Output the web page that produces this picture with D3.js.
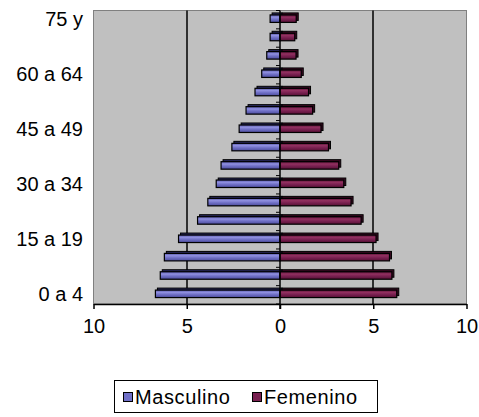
<!DOCTYPE html>
<html><head><meta charset="utf-8">
<script src="https://cdn.jsdelivr.net/npm/d3@7"></script>
<style>html,body{margin:0;padding:0;background:#fff;}svg{display:block;}</style>
</head><body>
<script>
const categories = ["0 a 4","5 a 9","10 a 14","15 a 19","20 a 24","25 a 29","30 a 34","35 a 39","40 a 44","45 a 49","50 a 54","55 a 59","60 a 64","65 a 69","70 a 74","75 y"];
const shownLabels = ["0 a 4","15 a 19","30 a 34","45 a 49","60 a 64","75 y"];
const masculino = [6.68,6.42,6.2,5.44,4.42,3.87,3.42,3.16,2.58,2.19,1.82,1.34,0.98,0.71,0.53,0.53];
const femenino = [6.26,6.0,5.87,5.15,4.35,3.81,3.42,3.15,2.6,2.2,1.75,1.53,1.14,0.86,0.79,0.87];
const xTicks = [-10,-5,0,5,10];
const gridTicks = [-5,5];
const seriesNames = ["Masculino","Femenino"];

const W=479,H=417;
const svg=d3.select("body").append("svg").attr("width",W).attr("height",H);
svg.append("rect").attr("width",W).attr("height",H).attr("fill","#fff");

const defs=svg.append("defs");
function grad(id,stops){
  const g=defs.append("linearGradient").attr("id",id).attr("x1",0).attr("y1",0).attr("x2",0).attr("y2",1);
  stops.forEach(s=>g.append("stop").attr("offset",s[0]).attr("stop-color",s[1]));
}
grad("gM",[["0%","#5656a8"],["30%","#9090e0"],["60%","#6e6ec4"],["100%","#4c4c9c"]]);
grad("gF",[["0%","#5a1236"],["30%","#923060"],["60%","#782050"],["100%","#561034"]]);

const L=93.5,R=466.5,T=10.5,B=304;
const x=d3.scaleLinear().domain([-10,10]).range([L,R]);
const y=d3.scaleBand().domain(categories).range([B,T]);

// plot area
svg.append("rect").attr("x",L).attr("y",T).attr("width",R-L).attr("height",B-T)
  .attr("fill","#c0c0c0").attr("stroke","#808080").attr("stroke-width",1);

// gridlines
svg.selectAll(".grid").data(gridTicks).enter().append("line")
  .attr("x1",d=>Math.round(x(d))).attr("x2",d=>Math.round(x(d)))
  .attr("y1",T).attr("y2",B).attr("stroke","#000").attr("stroke-width",1.5);

const bw=y.bandwidth();
const bh=7.5, dep=2;
function barY(c){return y(c)+bw/2-bh/2-1;}

const mData=categories.map((c,i)=>({c,v:-masculino[i]}));
const fData=categories.map((c,i)=>({c,v:femenino[i]}));

function drawSeries(data,fillId,back){
  const g=svg.append("g");
  g.selectAll(".b").data(data).enter().append("rect")
    .attr("x",d=>Math.min(x(0),x(d.v))+dep).attr("y",d=>barY(d.c)-dep)
    .attr("width",d=>Math.abs(x(d.v)-x(0))).attr("height",bh)
    .attr("fill",back).attr("stroke","#000").attr("stroke-width",1);
  g.selectAll(".f").data(data).enter().append("rect")
    .attr("x",d=>Math.min(x(0),x(d.v))).attr("y",d=>barY(d.c))
    .attr("width",d=>Math.abs(x(d.v)-x(0))).attr("height",bh)
    .attr("fill","url(#"+fillId+")").attr("stroke","#000").attr("stroke-width",1.2);
}
drawSeries(mData,"gM","#2a2a60");
drawSeries(fData,"gF","#3a0a22");

// center axis
svg.append("line").attr("x1",x(0)).attr("x2",x(0)).attr("y1",T).attr("y2",B+5)
  .attr("stroke","#000").attr("stroke-width",1.5);
// category ticks on center axis
const bounds=categories.map(c=>y(c)).concat([B]);
svg.selectAll(".ct").data(bounds).enter().append("line")
  .attr("x1",x(0)-4).attr("x2",x(0)).attr("y1",d=>d).attr("y2",d=>d)
  .attr("stroke","#000").attr("stroke-width",1);

// x axis
const xa=svg.append("g").attr("transform","translate(0,"+B+")")
  .call(d3.axisBottom(x).tickValues(xTicks).tickFormat(d=>Math.abs(d)).tickSize(5).tickSizeOuter(0));
xa.select(".domain").attr("stroke","#000").attr("stroke-width",1.5);
xa.selectAll(".tick line").attr("stroke","#000").attr("stroke-width",1.5);
xa.selectAll("text").attr("font-family","'Liberation Sans',Arial,sans-serif").attr("font-size",20)
  .attr("fill","#000").attr("dy",null).attr("y",29);

// y labels
svg.selectAll(".yl").data(shownLabels).enter().append("text")
  .attr("x",83).attr("y",d=>y(d)+bw/2+6.5).attr("text-anchor","end")
  .attr("font-family","'Liberation Sans',Arial,sans-serif").attr("font-size",20).attr("fill","#000")
  .text(d=>d);

// legend
const lg=svg.append("g");
lg.append("rect").attr("x",114.5).attr("y",380.5).attr("width",263).attr("height",32)
  .attr("fill","#fff").attr("stroke","#000").attr("stroke-width",1);
const items=[{n:seriesNames[0],fill:"#7070c8",mx:123,tx:135},{n:seriesNames[1],fill:"#782050",mx:252,tx:264}];
items.forEach(it=>{
  lg.append("rect").attr("x",it.mx+0.5).attr("y",392.5).attr("width",9).attr("height",9)
    .attr("fill",it.fill).attr("stroke","#000").attr("stroke-width",1);
  lg.append("text").attr("x",it.tx).attr("y",404).attr("font-family","'Liberation Sans',Arial,sans-serif")
    .attr("font-size",20).attr("letter-spacing",0.6).attr("fill","#000").text(it.n);
});
</script>
</body></html>
